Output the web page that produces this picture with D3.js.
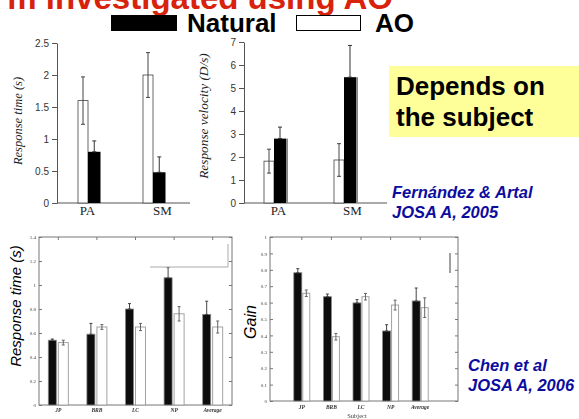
<!DOCTYPE html>
<html>
<head>
<meta charset="utf-8">
<script src="https://cdn.jsdelivr.net/npm/d3@7"></script>
<style>
    html, body { margin: 0; padding: 0; background: #fff; }
    svg { display: block; }
</style>
</head>
<body>
<svg id="slide" width="579" height="419"></svg>
<script>
// Fernandez & Artal 2005
var topGroups = ['PA', 'SM'];
var rtNatural = [0.8, 0.48];
var rtNaturalErr = [0.17, 0.24];
var rtAO = [1.6, 2.0];
var rtAOErr = [0.37, 0.35];
var rtTicks = [0, 0.5, 1, 1.5, 2, 2.5];

var velNatural = [2.8, 5.47];
var velNaturalErr = [0.5, 1.38];
var velAO = [1.82, 1.87];
var velAOErr = [0.52, 0.71];
var velTicks = [0, 1, 2, 3, 4, 5, 6, 7];

// Chen et al 2006
var subjects = ['JP', 'BRB', 'LC', 'NP', 'Average'];
var chenRtNatural = [0.54, 0.59, 0.80, 1.06, 0.755];
var chenRtNaturalErr = [0.01, 0.09, 0.045, 0.085, 0.11];
var chenRtAO = [0.52, 0.65, 0.65, 0.76, 0.65];
var chenRtAOErr = [0.02, 0.02, 0.03, 0.06, 0.05];
var chenRtTicks = [0, 0.2, 0.4, 0.6, 0.8, 1, 1.2, 1.4];

var chenGainNatural = [0.782, 0.636, 0.598, 0.427, 0.61];
var chenGainNaturalErr = [0.025, 0.016, 0.02, 0.038, 0.079];
var chenGainAO = [0.657, 0.392, 0.636, 0.585, 0.569];
var chenGainAOErr = [0.02, 0.02, 0.02, 0.03, 0.06];
var chenGainTicks = [0, 0.1, 0.2, 0.3, 0.4, 0.5, 0.6, 0.7, 0.8, 0.9, 1];

var svg = d3.select('#slide');

svg.append('defs')
    .append('filter')
    .attr('id', 'scan')
    .append('feGaussianBlur')
    .attr('stdDeviation', 0.45);

function errorBar(g, x, y0, y1, w, color) {
    g.append('line')
        .attr('x1', x).attr('x2', x)
        .attr('y1', y0).attr('y2', y1)
        .attr('stroke', color)
        .attr('stroke-width', 1);
    [y0, y1].forEach(function (yy) {
        g.append('line')
            .attr('x1', x - w).attr('x2', x + w)
            .attr('y1', yy).attr('y2', yy)
            .attr('stroke', color)
            .attr('stroke-width', 1);
    });
}

// upper panels (Fernandez & Artal)
function topChart(opt) {
    var g = svg.append('g');

    var y = d3.scaleLinear().domain([0, d3.max(opt.ticks)]).range([opt.bottom, opt.top]);
    var x = d3.scaleBand().domain(topGroups).range(opt.barRange);
    var xLabel = d3.scalePoint().domain(topGroups).range(opt.labelRange);

    g.append('g')
        .attr('transform', 'translate(' + opt.left + ',0)')
        .call(d3.axisLeft(y).tickValues(opt.ticks).tickSizeInner(5).tickSizeOuter(0)
            .tickPadding(3).tickFormat(d3.format('')))
        .call(function (a) {
            a.selectAll('path, line').attr('stroke', '#555');
            a.selectAll('text').attr('font-family', 'Liberation Sans, Arial, sans-serif')
                .attr('font-size', 10).attr('fill', '#333');
        });

    g.append('line')
        .attr('x1', opt.left).attr('x2', opt.right)
        .attr('y1', opt.bottom).attr('y2', opt.bottom)
        .attr('stroke', '#555');

    g.append('g')
        .attr('transform', 'translate(0,' + opt.bottom + ')')
        .call(d3.axisBottom(xLabel).tickSize(0).tickPadding(3))
        .call(function (a) {
            a.select('.domain').remove();
            a.selectAll('text').attr('font-family', 'Liberation Serif, Times New Roman, serif')
                .attr('font-size', 13).attr('fill', '#222');
        });

    topGroups.forEach(function (k, i) {
        var c = x(k) + x.bandwidth() / 2;
        var wx = c + opt.whiteOff;
        var bx = c + opt.blackOff;

        // AO (white)
        g.append('rect')
            .attr('x', wx).attr('y', y(opt.ao[i]))
            .attr('width', opt.whiteW).attr('height', y(0) - y(opt.ao[i]))
            .attr('fill', '#fff').attr('stroke', '#444').attr('stroke-width', 0.8);
        errorBar(g, wx + opt.whiteW / 2, y(opt.ao[i] - opt.aoErr[i]), y(opt.ao[i] + opt.aoErr[i]), 2, '#444');

        // Natural (black)
        g.append('rect')
            .attr('x', bx).attr('y', y(opt.natural[i]))
            .attr('width', opt.blackW).attr('height', y(0) - y(opt.natural[i]))
            .attr('fill', '#000');
        if (opt.shade) {
            g.append('rect')
                .attr('x', bx + opt.blackW).attr('y', y(opt.natural[i]))
                .attr('width', opt.shade).attr('height', y(0) - y(opt.natural[i]))
                .attr('fill', '#888');
        }
        errorBar(g, bx + opt.blackW / 2, y(opt.natural[i]), y(opt.natural[i] + opt.naturalErr[i]), 2, '#333');
    });

    g.append('text')
        .attr('transform', 'translate(' + opt.titleX + ',' + opt.titleY + ') rotate(-90)')
        .attr('text-anchor', 'middle')
        .attr('font-family', 'Liberation Serif, Times New Roman, serif')
        .attr('font-style', 'italic')
        .attr('font-size', opt.titleSize)
        .attr('fill', '#222')
        .text(opt.title);
}

// lower panels (Chen et al), scanned Matlab plots
function bottomChart(opt) {
    var g = svg.append('g').attr('filter', 'url(#scan)');

    var y = d3.scaleLinear().domain([0, d3.max(opt.ticks)]).range([opt.bottom, opt.top]);
    var x = d3.scaleBand().domain(subjects).range(opt.barRange);

    g.append('rect')
        .attr('x', opt.left).attr('y', opt.top)
        .attr('width', opt.right - opt.left).attr('height', opt.bottom - opt.top)
        .attr('fill', 'none').attr('stroke', '#777').attr('stroke-width', 1);

    g.append('g')
        .attr('transform', 'translate(' + opt.left + ',0)')
        .call(d3.axisLeft(y).tickValues(opt.ticks).tickSizeInner(-3).tickSizeOuter(0)
            .tickPadding(3).tickFormat(d3.format('')))
        .call(function (a) {
            a.select('.domain').remove();
            a.selectAll('line').attr('stroke', '#777');
            a.selectAll('text').attr('font-family', 'Liberation Serif, serif')
                .attr('font-size', 5).attr('fill', '#444');
        });

    g.append('g')
        .attr('transform', 'translate(' + opt.right + ',0)')
        .call(d3.axisRight(y).tickValues(opt.ticks).tickSizeInner(-3).tickSizeOuter(0).tickFormat(''))
        .call(function (a) {
            a.select('.domain').remove();
            a.selectAll('line').attr('stroke', '#777');
        });

    g.append('g')
        .attr('transform', 'translate(0,' + opt.top + ')')
        .call(d3.axisTop(x).tickSizeInner(-3).tickSizeOuter(0).tickFormat(''))
        .call(function (a) {
            a.select('.domain').remove();
            a.selectAll('line').attr('stroke', '#777');
        });

    g.append('g')
        .attr('transform', 'translate(0,' + opt.bottom + ')')
        .call(d3.axisBottom(x).tickSize(0).tickPadding(opt.labelPad))
        .call(function (a) {
            a.select('.domain').remove();
            a.selectAll('text').attr('font-family', 'Liberation Serif, serif')
                .attr('font-style', 'italic').attr('font-weight', 'bold')
                .attr('font-size', 5.5).attr('fill', '#333');
        });

    subjects.forEach(function (k, i) {
        var c = x(k) + x.bandwidth() / 2;
        var bx = c + opt.blackOff;
        var wx = c + opt.whiteOff;

        g.append('rect')
            .attr('x', bx).attr('y', y(opt.natural[i]))
            .attr('width', opt.blackW).attr('height', y(0) - y(opt.natural[i]))
            .attr('fill', '#0a0a0a').attr('stroke', '#888').attr('stroke-width', 0.8);
        errorBar(g, bx + opt.blackW / 2, y(opt.natural[i]), y(opt.natural[i] + opt.naturalErr[i]), 1.5, '#444');

        g.append('rect')
            .attr('x', wx).attr('y', y(opt.ao[i]))
            .attr('width', opt.whiteW).attr('height', y(0) - y(opt.ao[i]))
            .attr('fill', '#fff').attr('stroke', '#999').attr('stroke-width', 0.9);
        errorBar(g, wx + opt.whiteW / 2, y(opt.ao[i] - opt.aoErr[i]), y(opt.ao[i] + opt.aoErr[i]), 1.5, '#666');
    });

    return g;
}

// title, cut at top edge
svg.append('text')
    .attr('x', 393).attr('y', 9)
    .attr('text-anchor', 'end')
    .attr('font-family', 'Liberation Sans, Arial, sans-serif')
    .attr('font-weight', 'bold')
    .attr('font-size', 33)
    .attr('fill', '#d8220c')
    .text('m investigated using AO');

// legend
svg.append('rect')
    .attr('x', 111).attr('y', 15).attr('width', 66).attr('height', 16)
    .attr('fill', '#000');
svg.append('text')
    .attr('x', 187).attr('y', 32)
    .attr('font-family', 'Liberation Sans, Arial, sans-serif')
    .attr('font-weight', 'bold').attr('font-size', 26)
    .text('Natural');
svg.append('rect')
    .attr('x', 296.5).attr('y', 15.5).attr('width', 64).attr('height', 15)
    .attr('fill', '#fff').attr('stroke', '#000').attr('stroke-width', 1);
svg.append('text')
    .attr('x', 375).attr('y', 32)
    .attr('font-family', 'Liberation Sans, Arial, sans-serif')
    .attr('font-weight', 'bold').attr('font-size', 26)
    .text('AO');

topChart({
    left: 57, right: 190, top: 43, bottom: 203,
    ticks: rtTicks, natural: rtNatural, naturalErr: rtNaturalErr, ao: rtAO, aoErr: rtAOErr,
    barRange: [56.5, 186.5], labelRange: [87, 162],
    whiteOff: -11, whiteW: 10, blackOff: -1, blackW: 12.5, shade: 0,
    title: 'Response time (s)', titleX: 22, titleY: 121, titleSize: 12.5
});

topChart({
    left: 244, right: 387, top: 42, bottom: 203,
    ticks: velTicks, natural: velNatural, naturalErr: velNaturalErr, ao: velAO, aoErr: velAOErr,
    barRange: [241, 381], labelRange: [278, 352],
    whiteOff: -12, whiteW: 10, blackOff: -2, blackW: 12, shade: 2,
    title: 'Response velocity (D/s)', titleX: 208, titleY: 116, titleSize: 13.3
});

var rtPanel = bottomChart({
    left: 39, right: 232, top: 237, bottom: 405,
    ticks: chenRtTicks, natural: chenRtNatural, naturalErr: chenRtNaturalErr,
    ao: chenRtAO, aoErr: chenRtAOErr,
    barRange: [39, 232], blackOff: -10, blackW: 8, whiteOff: 0, whiteW: 10, labelPad: 3
});

// leftover legend frame in the scanned plot
rtPanel.append('path')
    .attr('d', 'M150,267 L228,267 L228,244')
    .attr('fill', 'none').attr('stroke', '#aaa').attr('stroke-width', 1);

var gainPanel = bottomChart({
    left: 270, right: 458, top: 237, bottom: 401,
    ticks: chenGainTicks, natural: chenGainNatural, naturalErr: chenGainNaturalErr,
    ao: chenGainAO, aoErr: chenGainAOErr,
    barRange: [287, 435], blackOff: -8, blackW: 8, whiteOff: 1, whiteW: 7, labelPad: 4
});

gainPanel.append('line')
    .attr('x1', 450).attr('x2', 450).attr('y1', 253).attr('y2', 273)
    .attr('stroke', '#444').attr('stroke-width', 1);

gainPanel.append('text')
    .attr('x', 357).attr('y', 418)
    .attr('text-anchor', 'middle')
    .attr('font-family', 'Liberation Serif, serif')
    .attr('font-size', 6.5).attr('fill', '#444')
    .text('Subject');

// slide y labels for lower panels
svg.append('text')
    .attr('transform', 'translate(21,306) rotate(-90)')
    .attr('text-anchor', 'middle')
    .attr('font-family', 'Liberation Sans, Arial, sans-serif')
    .attr('font-style', 'italic').attr('font-size', 15)
    .text('Response time (s)');
svg.append('text')
    .attr('transform', 'translate(256,322) rotate(-90)')
    .attr('text-anchor', 'middle')
    .attr('font-family', 'Liberation Sans, Arial, sans-serif')
    .attr('font-style', 'italic').attr('font-size', 16)
    .text('Gain');

// yellow note
svg.append('rect')
    .attr('x', 389).attr('y', 66).attr('width', 190).attr('height', 71)
    .attr('fill', '#ffff99');
svg.append('text')
    .attr('font-family', 'Liberation Sans, Arial, sans-serif')
    .attr('font-weight', 'bold').attr('font-size', 26)
    .selectAll('tspan')
    .data(['Depends on', 'the subject'])
    .join('tspan')
    .attr('x', 396)
    .attr('y', function (d, i) { return 95 + i * 31; })
    .text(function (d) { return d; });

// references
function cite(lines, x, y) {
    svg.append('text')
        .attr('font-family', 'Liberation Sans, Arial, sans-serif')
        .attr('font-weight', 'bold').attr('font-style', 'italic')
        .attr('font-size', 16.5).attr('fill', '#0c0c9e')
        .selectAll('tspan')
        .data(lines)
        .join('tspan')
        .attr('x', x)
        .attr('y', function (d, i) { return y + i * 20; })
        .text(function (d) { return d; });
}
cite(['Fernández & Artal', 'JOSA A, 2005'], 392, 198);
cite(['Chen et al', 'JOSA A, 2006'], 468, 371);
</script>
</body>
</html>
